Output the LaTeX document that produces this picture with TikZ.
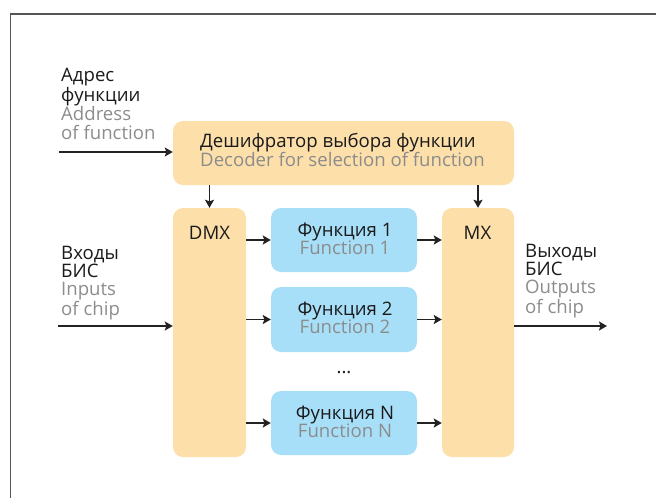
\documentclass[tikz,border=0pt]{standalone}
\usepackage{fontspec}
\setmainfont{Open Sans}
\usetikzlibrary{arrows.meta,calc}
\definecolor{boxor}{HTML}{FDDFAA}
\definecolor{boxbl}{HTML}{A8DFF8}
\definecolor{txtru}{HTML}{1A1A1A}
\definecolor{txten}{HTML}{8C8C8C}
\definecolor{linec}{HTML}{222222}
\definecolor{framec}{HTML}{555555}
\newcommand{\en}[1]{\textcolor{txten}{#1}}
\begin{document}
\begin{tikzpicture}[x=1pt,y=-1pt,
  font=\fontsize{18.6}{18.3}\selectfont, text=txtru,
  orbox/.style={fill=boxor, rounded corners=10pt, inner sep=0pt, draw=none},
  blbox/.style={fill=boxbl, rounded corners=10pt, inner sep=0pt, draw=none},
  sidelbl/.style={align=left, anchor=base west, inner sep=0pt},
  boxtxt/.style={align=center, anchor=base, inner sep=0pt},
  arr/.style={draw=linec, line width=1.5pt, -{Stealth[length=8pt,width=9pt,inset=1.5pt]}},
  plainlbl/.style={inner sep=0pt, anchor=base}]
\useasboundingbox (0,0) rectangle (656,498);
% frame
\draw[framec, line width=1.3pt] (10.5,498) -- (10.5,14) -- (656,14);
% boxes
\node[orbox, minimum width=341pt, minimum height=64pt] (dec) at (343.5,153) {};
\node[orbox, minimum width=73pt, minimum height=249pt] (dmx) at (209.5,332.5) {};
\node[orbox, minimum width=72pt, minimum height=249pt] (mx) at (478,332.5) {};
\node[blbox, minimum width=146pt, minimum height=64pt] (f1) at (344,240) {};
\node[blbox, minimum width=146pt, minimum height=65pt] (f2) at (344,319.5) {};
\node[blbox, minimum width=146pt, minimum height=64pt] (fN) at (344,423) {};
% box texts (anchored at the baseline of the last line)
\node[sidelbl] (dect) at (200,166.7) {Дешифратор выбора функции\\\en{Decoder for selection of function}};
\node[plainlbl] (dmxl) at (209.5,239) {DMX};
\node[plainlbl] (mxl) at (477.5,239) {MX};
\node[boxtxt] (f1t) at (345,254.3) {Функция 1\\\en{Function 1}};
\node[boxtxt] (f2t) at (345,333.8) {Функция 2\\\en{Function 2}};
\node[boxtxt] (fNt) at (345,437.3) {Функция N\\\en{Function N}};
\node[plainlbl] (dots) at (344,373) {...};
% side labels (anchored at the baseline of the last line)
\node[sidelbl] (addr) at (61,139) {Адрес\\функции\\\en{Address}\\\en{of function}};
\node[sidelbl] (inp) at (61,315.3) {Входы\\БИС\\\en{Inputs}\\\en{of chip}};
\node[sidelbl] (outp) at (525,313.3) {Выходы\\БИС\\\en{Outputs}\\\en{of chip}};
% connector ends
\coordinate (addrS) at (59,152);
\coordinate (inS) at (58,326);
\coordinate (outE) at (607,326);
% connectors
\draw[arr] (addrS) -- (addrS -| dec.west);
\draw[arr] (inS) -- (inS -| dmx.west);
\draw[arr] (outE -| mx.east) -- (outE);
\draw[arr] (dmx.north |- dec.south) -- (dmx.north);
\draw[arr] (mx.north |- dec.south) -- (mx.north);
\draw[arr] (dmx.east |- f1.west) -- (f1.west);
\draw[arr] (dmx.east |- f2.west) -- (f2.west);
\draw[arr] (dmx.east |- fN.west) -- (fN.west);
\draw[arr] (f1.east) -- (f1.east -| mx.west);
\draw[arr] (f2.east) -- (f2.east -| mx.west);
\draw[arr] (fN.east) -- (fN.east -| mx.west);
\end{tikzpicture}
\end{document}
